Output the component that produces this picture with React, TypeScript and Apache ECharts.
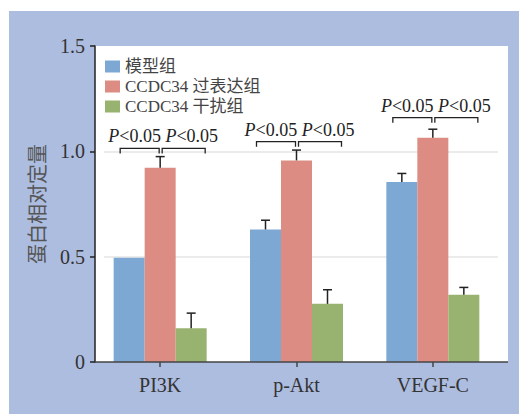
import React, { useEffect, useRef } from "react";
import * as echarts from "echarts";

const categories = ["PI3K", "p-Akt", "VEGF-C"];
const seriesNames = ["模型组", "CCDC34 过表达组", "CCDC34 干扰组"];
const modelValues = [0.495, 0.629, 0.854];
const overValues = [0.922, 0.957, 1.065];
const knockValues = [0.16, 0.276, 0.319];
const modelErr = [null, 0.044, 0.041];
const overErr = [0.053, 0.049, 0.04];
const knockErr = [0.072, 0.067, 0.035];
const bracketLevels = [1.014, 1.046, 1.16];
const bracketText = "{i|P}{n|<0.05 }{i|P}{n|<0.05}";
const gridValues = [0.5, 1.0];

const colors = ["#7ea8d4", "#dc8c83", "#98b36f"];
const SERIF = "Liberation Serif, Noto Sans CJK SC, serif";
const BAR_W = 31;

export default function App() {
  const ref = useRef<HTMLDivElement>(null);
  useEffect(() => {
    if (!ref.current) return;
    const chart = echarts.init(ref.current, undefined, { renderer: "svg" });
    const values = [modelValues, overValues, knockValues];
    const errs = [modelErr, overErr, knockErr];

    const barSeries = values.map((v, i) => ({
      type: "bar",
      name: seriesNames[i],
      data: v,
      barWidth: BAR_W,
      barGap: "0%",
      itemStyle: { color: colors[i] },
      z: 2,
      ...(i === 0
        ? {
            markLine: {
              silent: true,
              symbol: "none",
              label: { show: false },
              lineStyle: { color: "#e4e4e4", width: 1.5, type: "solid" },
              data: gridValues.map((g) => [
                { yAxis: g, x: 104 },
                { yAxis: g, x: 498 },
              ]),
              z: 1,
            },
          }
        : {}),
    }));

    const errSeries = errs.map((e, i) => ({
      type: "custom",
      name: "err" + i,
      z: 3,
      data: e
        .map((err, k) => (err == null ? null : [k, values[i][k], values[i][k] + err]))
        .filter((d) => d != null),
      renderItem: (params: any, api: any) => {
        const top = api.coord([api.value(0), api.value(1)]);
        const cap = api.coord([api.value(0), api.value(2)]);
        const x = top[0] + (i - 1) * BAR_W;
        const st = { stroke: "#222", lineWidth: 1.5 };
        return {
          type: "group",
          children: [
            { type: "line", shape: { x1: x, y1: top[1], x2: x, y2: cap[1] }, style: st },
            { type: "line", shape: { x1: x - 4.5, y1: cap[1], x2: x + 4.5, y2: cap[1] }, style: st },
          ],
        };
      },
    }));

    const bracketSeries = {
      type: "custom",
      name: "brackets",
      z: 4,
      data: bracketLevels.map((l, k) => [k, l]),
      renderItem: (params: any, api: any) => {
        const c = api.coord([api.value(0), api.value(1)]);
        const x = c[0];
        const y = c[1];
        const d = 5;
        const st = { stroke: "#222", fill: null, lineWidth: 1.3 };
        return {
          type: "group",
          children: [
            {
              type: "polyline",
              shape: { points: [[x - 40, y + d], [x - 40, y], [x - 1, y], [x - 1, y + d]] },
              style: st,
            },
            {
              type: "polyline",
              shape: { points: [[x + 2, y + d], [x + 2, y], [x + 45, y], [x + 45, y + d]] },
              style: st,
            },
            {
              type: "text",
              x: x + 3,
              y: y - 3,
              style: {
                text: bracketText,
                align: "center",
                verticalAlign: "bottom",
                fill: "#222",
                fontSize: 18,
                fontFamily: SERIF,
                rich: {
                  i: { fontStyle: "italic", fontSize: 18, fontFamily: SERIF, fill: "#222" },
                  n: { fontSize: 18, fontFamily: SERIF, fill: "#222" },
                },
              },
            },
          ],
        };
      },
    };

    chart.setOption({
      animation: false,
      graphic: [
        {
          type: "rect",
          z: -100,
          silent: true,
          shape: { x: 9, y: 11, width: 510, height: 403 },
          style: { fill: "#adbde0" },
        },
        {
          type: "rect",
          z: -99,
          silent: true,
          shape: { x: 95, y: 46, width: 413, height: 316 },
          style: { fill: "#ffffff" },
        },
        {
          type: "line",
          z: 50,
          silent: true,
          shape: { x1: 95, y1: 362, x2: 508, y2: 362 },
          style: { stroke: "#444", lineWidth: 1.5 },
        },
      ],
      legend: {
        data: seriesNames,
        orient: "vertical",
        left: 100,
        top: 53,
        itemWidth: 15,
        itemHeight: 12,
        itemGap: 3,
        icon: "rect",
        textStyle: { fontSize: 17, fontFamily: SERIF, color: "#444" },
      },
      grid: { left: 92, right: 18, top: 46, bottom: 52 },
      xAxis: {
        type: "category",
        data: categories,
        axisLine: { show: false },
        axisTick: { show: true, alignWithLabel: true, length: 5, lineStyle: { color: "#444", width: 1.5 } },
        axisLabel: { fontSize: 20, fontFamily: SERIF, color: "#333", margin: 13 },
        splitLine: { show: false },
      },
      yAxis: {
        type: "value",
        min: 0,
        max: 1.5,
        interval: 0.5,
        offset: -3,
        name: "蛋白相对定量",
        nameLocation: "middle",
        nameGap: 47,
        nameTextStyle: { fontSize: 20, fontFamily: SERIF, color: "#555" },
        axisLine: { show: true, lineStyle: { color: "#222", width: 1.5 } },
        axisTick: { show: true, length: 5, lineStyle: { color: "#222", width: 1.5 } },
        axisLabel: {
          fontSize: 20,
          fontFamily: SERIF,
          color: "#333",
          margin: 10,
          formatter: (v: number) => (v === 0 ? "0" : v.toFixed(1)),
        },
        splitLine: { show: false },
      },
      series: [...barSeries, ...errSeries, bracketSeries],
    });
    return () => chart.dispose();
  }, []);
  return (
    <div
      ref={ref}
      style={{ position: "absolute", left: 0, top: 0, width: 519, height: 414 }}
    />
  );
}
